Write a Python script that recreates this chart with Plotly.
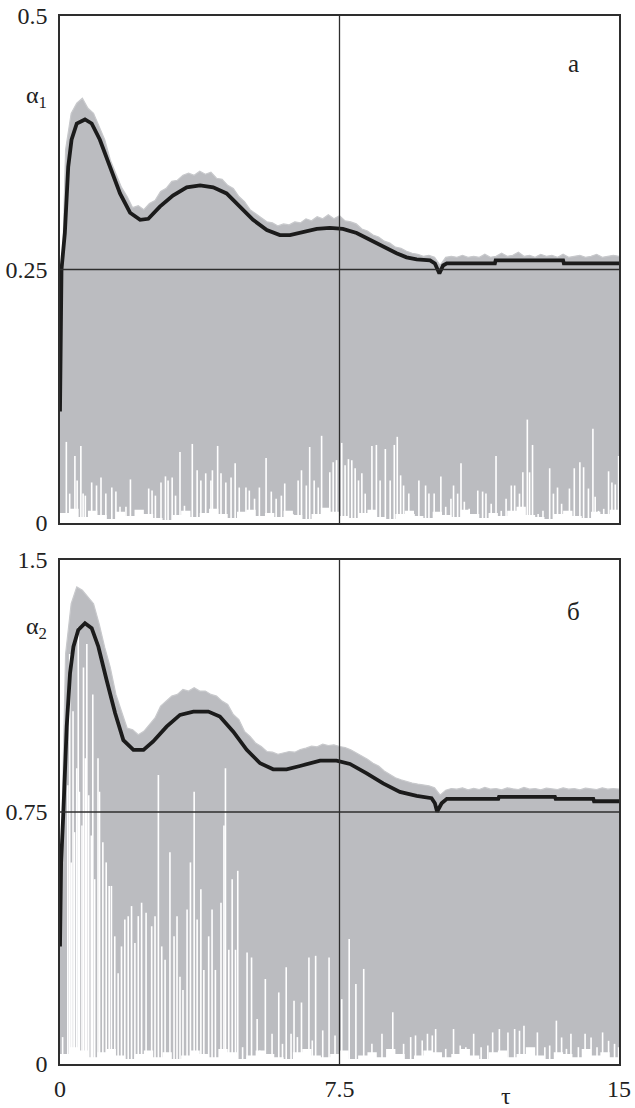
import numpy as np
import plotly.graph_objects as go

# ---------------- data ----------------
TAU_RANGE = [0, 15]
X_TICKS = [0, 7.5, 15]
X_TICK_TEXT = ["0", "7.5", "15"]

Y1_TICKS = [0, 0.25, 0.5]
Y1_TICK_TEXT = ["0", "0.25", "0.5"]
Y2_TICKS = [0, 0.75, 1.5]
Y2_TICK_TEXT = ["0", "0.75", "1.5"]

CROSS_X = 7.5
CROSS_Y1 = 0.25
CROSS_Y2 = 0.75

# sampling instants of the envelope of the fast signal
ENV_TAU = np.linspace(0, 15, 101)

# panel a: upper envelope of alpha_1(t)
A1_UPPER = [0.160, 0.368, 0.404, 0.414, 0.419, 0.409, 0.404, 0.390, 0.378, 0.358,
            0.345, 0.331, 0.322, 0.311, 0.313, 0.309, 0.315, 0.318, 0.327, 0.330,
            0.337, 0.338, 0.343, 0.345, 0.343, 0.347, 0.344, 0.346, 0.340, 0.339,
            0.333, 0.330, 0.322, 0.317, 0.309, 0.305, 0.301, 0.297, 0.296, 0.293,
            0.295, 0.294, 0.297, 0.296, 0.300, 0.298, 0.302, 0.300, 0.304, 0.300,
            0.303, 0.298, 0.297, 0.295, 0.290, 0.288, 0.284, 0.282, 0.278, 0.276,
            0.272, 0.271, 0.268, 0.266, 0.265, 0.263, 0.264, 0.262, 0.254, 0.262,
            0.263, 0.262, 0.264, 0.262, 0.263, 0.262, 0.265, 0.262, 0.263, 0.266,
            0.263, 0.264, 0.267, 0.263, 0.264, 0.262, 0.265, 0.263, 0.264, 0.262,
            0.265, 0.262, 0.263, 0.264, 0.262, 0.263, 0.265, 0.262, 0.263, 0.264,
            0.263]

# panel b: upper envelope of alpha_2(t)
A2_UPPER = [0.45, 1.22, 1.37, 1.42, 1.41, 1.39, 1.37, 1.31, 1.24, 1.18,
            1.10, 1.05, 1.00, 0.995, 0.98, 0.99, 1.01, 1.03, 1.065, 1.08,
            1.095, 1.10, 1.115, 1.11, 1.12, 1.11, 1.11, 1.10, 1.095, 1.08,
            1.07, 1.04, 1.025, 0.99, 0.975, 0.955, 0.945, 0.93, 0.928, 0.922,
            0.925, 0.93, 0.928, 0.936, 0.94, 0.946, 0.944, 0.952, 0.948, 0.95,
            0.945, 0.942, 0.935, 0.926, 0.915, 0.907, 0.895, 0.887, 0.872, 0.862,
            0.852, 0.846, 0.84, 0.836, 0.833, 0.83, 0.828, 0.822, 0.80, 0.815,
            0.82, 0.818, 0.822, 0.816, 0.82, 0.817, 0.823, 0.818, 0.82, 0.816,
            0.822, 0.819, 0.817, 0.823, 0.818, 0.82, 0.816, 0.821, 0.819, 0.817,
            0.822, 0.818, 0.82, 0.816, 0.821, 0.818, 0.817, 0.822, 0.818, 0.82,
            0.818]

# low "floor" of the fast signal (minimum level), sampled every 0.25
FLOOR_TAU = np.linspace(0, 15, 61)
A1_FLOOR = [0.010, 0.014, 0.006, 0.012, 0.008, 0.004, 0.011, 0.007, 0.013, 0.009,
            0.005, 0.003, 0.008, 0.012, 0.006, 0.010, 0.014, 0.009, 0.005, 0.011,
            0.013, 0.007, 0.010, 0.006, 0.012, 0.008, 0.004, 0.009, 0.015, 0.011,
            0.007, 0.005, 0.010, 0.013, 0.006, 0.004, 0.009, 0.012, 0.007, 0.005,
            0.011, 0.008, 0.006, 0.013, 0.009, 0.005, 0.010, 0.007, 0.012, 0.016,
            0.008, 0.006, 0.004, 0.009, 0.012, 0.007, 0.005, 0.011, 0.009, 0.013,
            0.010]
A2_FLOOR = [0.03, 0.05, 0.04, 0.02, 0.035, 0.045, 0.025, 0.015, 0.03, 0.04,
            0.02, 0.035, 0.015, 0.025, 0.04, 0.03, 0.02, 0.045, 0.035, 0.015,
            0.025, 0.04, 0.03, 0.02, 0.015, 0.035, 0.045, 0.025, 0.02, 0.03,
            0.04, 0.015, 0.025, 0.035, 0.02, 0.045, 0.03, 0.015, 0.025, 0.04,
            0.035, 0.02, 0.03, 0.045, 0.025, 0.015, 0.035, 0.04, 0.02, 0.03,
            0.05, 0.025, 0.015, 0.035, 0.03, 0.02, 0.045, 0.025, 0.035, 0.02,
            0.03]

# isolated minima of the fast signal (white gaps), panel a
A1_GAP_TAU = [0.17, 0.26, 0.40, 0.46, 0.56, 0.62, 0.68, 0.85, 0.98, 1.10, 1.23, 1.39,
              1.50, 1.61, 1.77, 1.89, 2.02, 2.15, 2.38, 2.47, 2.56, 2.71, 2.83, 2.90,
              3.01, 3.10, 3.22, 3.34, 3.55, 3.68, 3.78, 3.91, 4.05, 4.09, 4.23, 4.32,
              4.45, 4.59, 4.70, 4.81, 4.99, 5.08, 5.22, 5.35, 5.53, 5.67, 5.80, 5.94,
              6.03, 6.16, 6.25, 6.39, 6.48, 6.61, 6.70, 6.82, 6.93, 7.02, 7.14, 7.24,
              7.33, 7.42, 7.56, 7.65, 7.74, 7.83, 7.92, 8.01, 8.10, 8.19, 8.37, 8.49,
              8.59, 8.73, 8.86, 8.97, 9.05, 9.14, 9.22, 9.36, 9.50, 9.63, 9.81, 9.90,
              10.04, 10.22, 10.35, 10.49, 10.56, 10.67, 10.76, 10.85, 10.98, 11.21,
              11.34, 11.43, 11.57, 11.70, 11.84, 11.97, 12.11, 12.20, 12.33, 12.42,
              12.54, 12.60, 12.68, 12.83, 12.96, 13.14, 13.24, 13.35, 13.46, 13.55,
              13.67, 13.80, 13.95, 14.05, 14.18, 14.30, 14.36, 14.45, 14.59, 14.72,
              14.81, 14.90, 14.99]
A1_GAP_VAL = [0.080, 0.029, 0.066, 0.042, 0.076, 0.029, 0.027, 0.040, 0.037, 0.045,
              0.029, 0.035, 0.031, 0.016, 0.016, 0.043, 0.004, 0.006, 0.034, 0.032,
              0.027, 0.040, 0.046, 0.042, 0.045, 0.027, 0.070, 0.017, 0.078, 0.052,
              0.042, 0.049, 0.042, 0.052, 0.076, 0.049, 0.040, 0.045, 0.059, 0.035,
              0.035, 0.032, 0.024, 0.035, 0.064, 0.031, 0.024, 0.027, 0.039, 0.003,
              0.009, 0.042, 0.052, 0.037, 0.075, 0.042, 0.035, 0.086, 0.012, 0.050,
              0.060, 0.062, 0.079, 0.057, 0.063, 0.062, 0.054, 0.042, 0.049, 0.029,
              0.076, 0.077, 0.042, 0.073, 0.042, 0.077, 0.085, 0.047, 0.037, 0.029,
              0.009, 0.042, 0.037, 0.029, 0.029, 0.046, 0.016, 0.024, 0.037, 0.029,
              0.059, 0.021, 0.014, 0.032, 0.031, 0.029, 0.019, 0.066, 0.012, 0.024,
              0.037, 0.037, 0.029, 0.050, 0.102, 0.050, 0.077, 0.009, 0.012, 0.054,
              0.029, 0.035, 0.019, 0.006, 0.034, 0.054, 0.060, 0.055, 0.034, 0.093,
              0.026, 0.012, 0.014, 0.051, 0.040, 0.038, 0.066]

# isolated minima of the fast signal (white gaps), panel b
A2_GAP_TAU = [0.07, 0.21, 0.26, 0.30, 0.35, 0.39, 0.45, 0.49, 0.52, 0.59, 0.63, 0.68,
              0.72, 0.77, 0.84, 0.88, 0.93, 1.02, 1.06, 1.15, 1.24, 1.32, 1.38, 1.47,
              1.56, 1.65, 1.74, 1.83, 1.92, 2.01, 2.10, 2.19, 2.31, 2.46, 2.55, 2.64,
              2.73, 2.82, 2.95, 3.06, 3.14, 3.22, 3.30, 3.41, 3.50, 3.60, 3.68, 3.78,
              3.86, 3.99, 4.08, 4.17, 4.32, 4.40, 4.44, 4.53, 4.62, 4.71, 4.77, 4.90,
              5.02, 5.14, 5.29, 5.36, 5.51, 5.69, 5.87, 5.97, 6.07, 6.20, 6.28, 6.37,
              6.48, 6.68, 6.77, 6.86, 7.05, 7.22, 7.38, 7.56, 7.76, 7.94, 8.15, 8.37,
              8.64, 8.93, 9.22, 9.41, 9.54, 9.72, 9.86, 9.99, 10.08, 10.35, 10.56,
              10.74, 10.89, 11.10, 11.30, 11.48, 11.61, 11.79, 12.02, 12.20, 12.33,
              12.45, 12.65, 12.81, 13.01, 13.14, 13.32, 13.46, 13.59, 13.71, 13.91,
              14.09, 14.25, 14.41, 14.56, 14.72, 14.88, 14.99]
A2_GAP_VAL = [0.08, 0.83, 1.22, 0.60, 1.05, 0.69, 0.88, 1.30, 0.81, 0.71, 1.18, 0.91,
              1.25, 0.80, 0.68, 1.10, 0.55, 0.91, 0.81, 0.66, 0.60, 0.53, 0.53, 0.38,
              0.27, 0.35, 0.43, 0.44, 0.47, 0.36, 0.44, 0.48, 0.45, 0.41, 0.44, 0.86,
              0.35, 0.31, 0.63, 0.38, 0.44, 0.26, 0.22, 0.46, 0.60, 0.81, 0.43, 0.52,
              0.28, 0.38, 0.46, 0.28, 0.48, 0.71, 0.88, 0.34, 0.55, 0.34, 0.575, 0.05,
              0.332, 0.317, 0.134, 0.04, 0.253, 0.09, 0.213, 0.06, 0.288, 0.09, 0.188, 0.08,
              0.183, 0.317, 0.07, 0.322, 0.10, 0.317, 0.085, 0.193, 0.372, 0.238, 0.283, 0.06,
              0.09, 0.154, 0.06, 0.08, 0.085, 0.07, 0.09, 0.085, 0.104, 0.045, 0.104,
              0.055, 0.05, 0.09, 0.05, 0.055, 0.094, 0.104, 0.094, 0.104, 0.099,
              0.114, 0.045, 0.094, 0.05, 0.055, 0.129, 0.079, 0.045, 0.09, 0.05,
              0.09, 0.079, 0.05, 0.094, 0.069, 0.06, 0.05]

# averaged (slow) solutions: thick black curves
A1_MEAN_TAU = [0.0, 0.04, 0.13, 0.22, 0.31, 0.45, 0.67, 0.85, 1.07, 1.34, 1.61, 1.88,
               2.15, 2.37, 2.68, 3.03, 3.40, 3.76, 4.11, 4.47, 4.83, 5.18, 5.55, 5.90,
               6.17, 6.52, 6.89, 7.24, 7.59, 7.96, 8.32, 8.67, 9.03, 9.30, 9.57, 9.93,
               10.06, 10.18, 10.28, 10.38, 11.67, 11.69, 13.50, 13.52, 15.0]
A1_MEAN = [0.11, 0.25, 0.286, 0.351, 0.378, 0.394, 0.398, 0.394, 0.378, 0.351, 0.325,
           0.306, 0.299, 0.300, 0.312, 0.323, 0.331, 0.333, 0.331, 0.325, 0.312, 0.299,
           0.289, 0.284, 0.284, 0.287, 0.290, 0.291, 0.290, 0.286, 0.279, 0.272, 0.266,
           0.262, 0.260, 0.259, 0.256, 0.246, 0.254, 0.256, 0.256, 0.259, 0.259, 0.256,
           0.256]

A2_MEAN_TAU = [0.0, 0.03, 0.09, 0.18, 0.27, 0.36, 0.49, 0.67, 0.85, 1.03, 1.25, 1.48,
               1.70, 1.97, 2.24, 2.50, 2.86, 3.22, 3.58, 3.98, 4.29, 4.65, 5.01, 5.37,
               5.72, 6.08, 6.44, 6.98, 7.42, 7.78, 8.23, 8.67, 9.12, 9.57, 9.97, 10.06,
               10.12, 10.24, 10.38, 11.76, 11.78, 13.28, 13.30, 14.31, 14.33, 15.0]
A2_MEAN = [0.35, 0.60, 0.748, 1.004, 1.164, 1.242, 1.292, 1.312, 1.297, 1.242, 1.143,
           1.044, 0.964, 0.935, 0.935, 0.960, 1.004, 1.039, 1.049, 1.049, 1.034, 0.989,
           0.935, 0.895, 0.877, 0.877, 0.887, 0.903, 0.903, 0.893, 0.865, 0.835, 0.810,
           0.798, 0.791, 0.776, 0.751, 0.776, 0.789, 0.789, 0.795, 0.795, 0.789, 0.789,
           0.782, 0.782]

# ---------------- styling ----------------
GRAY = "#BBBCC0"
GRAY_EDGE = "#C8C9CC"
BLACK = "#1b1b1b"
FRAME = "#2e2e2e"
FONT = "Liberation Serif"


def gap_lines(taus, vals):
    xs, ys = [], []
    for t, v in zip(taus, vals):
        xs += [t, t, None]
        ys += [0, v, None]
    return xs, ys


fig = go.Figure()

panels = [
    ("x", "y", A1_UPPER, A1_FLOOR, A1_GAP_TAU, A1_GAP_VAL, A1_MEAN_TAU, A1_MEAN),
    ("x2", "y2", A2_UPPER, A2_FLOOR, A2_GAP_TAU, A2_GAP_VAL, A2_MEAN_TAU, A2_MEAN),
]
for xa, ya, upper, floor, gt, gv, mt, mv in panels:
    fig.add_trace(go.Scatter(x=ENV_TAU, y=upper, mode="lines", fill="tozeroy",
                             fillcolor=GRAY, line=dict(color=GRAY_EDGE, width=1.2),
                             xaxis=xa, yaxis=ya, hoverinfo="skip"))
    fig.add_trace(go.Scatter(x=FLOOR_TAU, y=floor, mode="lines", fill="tozeroy",
                             fillcolor="white", line=dict(color="white", width=0, shape="hv"),
                             xaxis=xa, yaxis=ya, hoverinfo="skip"))
    gx, gy = gap_lines(gt, gv)
    fig.add_trace(go.Scatter(x=gx, y=gy, mode="lines",
                             line=dict(color="white", width=1.6),
                             xaxis=xa, yaxis=ya, hoverinfo="skip"))
    fig.add_trace(go.Scatter(x=mt, y=mv, mode="lines",
                             line=dict(color=BLACK, width=3.8),
                             xaxis=xa, yaxis=ya))

axis_common = dict(showgrid=False, zeroline=False, showline=True, mirror=True,
                   linecolor=FRAME, linewidth=1.5, ticks="", automargin=False,
                   tickfont=dict(family=FONT, size=24, color="#222"))

fig.update_layout(
    template="none",
    width=635, height=1108,
    margin=dict(l=60, r=16, t=16, b=44, autoexpand=False),
    paper_bgcolor="white", plot_bgcolor="white",
    showlegend=False,
    xaxis=dict(domain=[0, 1], range=TAU_RANGE, anchor="y", showticklabels=False,
               tickvals=X_TICKS, **axis_common),
    yaxis=dict(domain=[0.5162, 1], range=[0, 0.5], anchor="x",
               tickvals=Y1_TICKS, ticktext=Y1_TICK_TEXT, ticklabelstandoff=6,
               **axis_common),
    xaxis2=dict(domain=[0, 1], range=TAU_RANGE, anchor="y2",
                tickvals=X_TICKS, ticktext=X_TICK_TEXT, ticklabelstandoff=2,
                **axis_common),
    yaxis2=dict(domain=[0, 0.4809], range=[0, 1.5], anchor="x2",
                tickvals=Y2_TICKS, ticktext=Y2_TICK_TEXT, ticklabelstandoff=6,
                **axis_common),
)

line_style = dict(color=FRAME, width=1.3)
fig.add_shape(type="line", xref="x", yref="y domain", x0=CROSS_X, x1=CROSS_X,
              y0=0, y1=1, line=line_style, layer="above")
fig.add_shape(type="line", xref="x domain", yref="y", x0=0, x1=1,
              y0=CROSS_Y1, y1=CROSS_Y1, line=line_style, layer="above")
fig.add_shape(type="line", xref="x2", yref="y2 domain", x0=CROSS_X, x1=CROSS_X,
              y0=0, y1=1, line=line_style, layer="above")
fig.add_shape(type="line", xref="x2 domain", yref="y2", x0=0, x1=1,
              y0=CROSS_Y2, y1=CROSS_Y2, line=line_style, layer="above")


def px_to_paper(px, py):
    return (px - 60) / 559.0, (1064 - py) / 1048.0


labels = [
    ("α<sub>1</sub>", 36, 97, 24),
    ("α<sub>2</sub>", 36, 628, 24),
    ("а", 573, 64, 25),
    ("б", 573, 611, 25),
    ("τ", 506, 1096, 24),
]
for text, px, py, size in labels:
    ax, ay = px_to_paper(px, py)
    fig.add_annotation(x=ax, y=ay, xref="paper", yref="paper", text=text,
                       showarrow=False, xanchor="center", yanchor="middle",
                       font=dict(family=FONT, size=size, color="#222"))

fig.write_html("out.html",
               config={"displayModeBar": False},
               post_script="document.body.style.margin='0';"
                           "document.body.style.overflow='hidden';")
